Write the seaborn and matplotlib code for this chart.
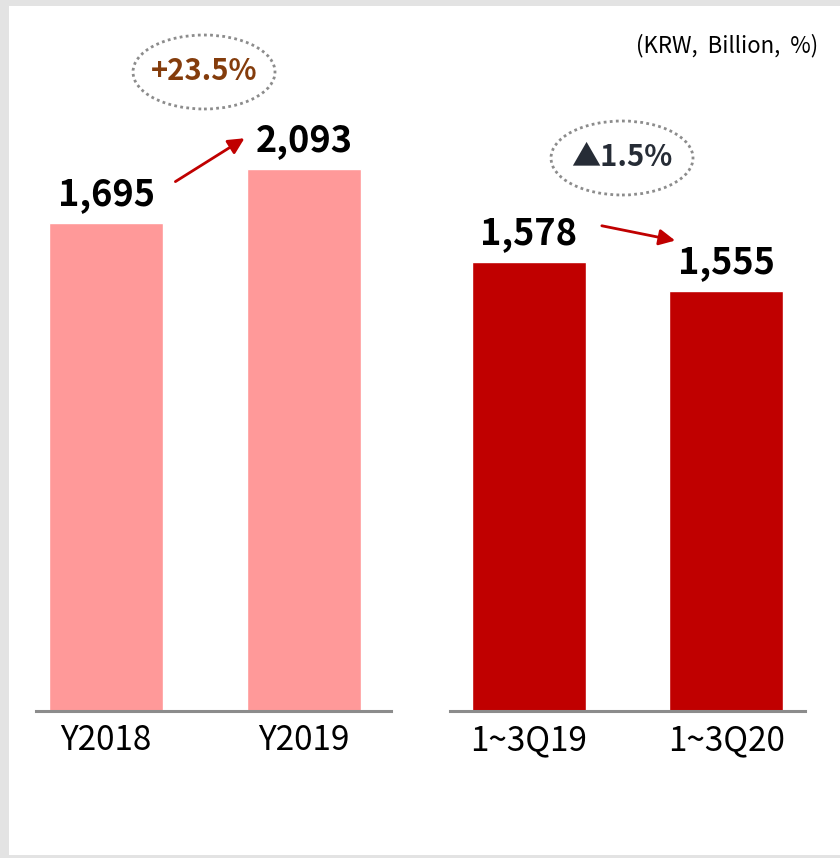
import matplotlib
matplotlib.use("Agg")
import matplotlib.pyplot as plt
from matplotlib.patches import Ellipse, Rectangle
import seaborn as sns
import pandas as pd

# annual and 1~3Q figures (KRW, Billion)
year_labels = ["Y2018", "Y2019"]
year_values = [1695, 2093]
quarter_labels = ["1~3Q19", "1~3Q20"]
quarter_values = [1578, 1555]
year_change = "+23.5%"
quarter_change = "\u25b21.5%"
unit_note = "(KRW,  Billion,  %)"

sns.set_theme(style="white")
plt.rcParams['font.family'] = ['Noto Sans CJK KR', 'DejaVu Sans']

fig = plt.figure(figsize=(8.4, 8.58), dpi=100)
fig.patch.set_facecolor("#e3e3e3")
# white page inside the grey frame
fig.patches.append(Rectangle((9 / 840, 3 / 858), 831 / 840, 849 / 858,
                             transform=fig.transFigure, facecolor="white",
                             edgecolor="none", zorder=-10))

ax1 = fig.add_axes([36 / 840, 147 / 858, 355 / 840, 691 / 858])
ax2 = fig.add_axes([450 / 840, 147 / 858, 355 / 840, 691 / 858])


def draw_panel(ax, labels, values, color, ylim, xlim):
    df = pd.DataFrame({"period": labels, "value": values})
    sns.barplot(data=df, x="period", y="value", color=color, width=0.576,
                saturation=1, ax=ax)
    # value axis does not start at zero: bars run down to the baseline
    for patch, v in zip(ax.patches, values):
        patch.set_y(ylim[0])
        patch.set_height(v - ylim[0])
    ax.set_ylim(*ylim)
    ax.set_xlim(*xlim)
    ax.set_facecolor("none")
    for s in ["top", "right", "left"]:
        ax.spines[s].set_visible(False)
    ax.spines["bottom"].set_color("#8c8c8c")
    ax.spines["bottom"].set_linewidth(2.2)
    ax.set_yticks([])
    ax.set_xlabel("")
    ax.set_ylabel("")
    ax.tick_params(axis="x", length=0, pad=9, labelsize=24, labelcolor="black")
    for i, v in enumerate(values):
        ax.annotate(f"{v:,}", (i, v), xytext=(0, 13), textcoords="offset points",
                    ha="center", va="baseline", fontsize=26, fontweight="bold",
                    color="black")


draw_panel(ax1, year_labels, year_values, "#ff9999", (-1880, 3186), (-0.354, 1.44))
draw_panel(ax2, quarter_labels, quarter_values, "#c00000", (1222, 1770), (-0.40, 1.40))

# growth arrows
ax1.annotate("", xy=(0.594, 0.831), xytext=(0.386, 0.764), xycoords="axes fraction",
             arrowprops=dict(arrowstyle="-|>,head_length=0.8,head_width=0.4",
                             color="#c00000", lw=2))
ax2.annotate("", xy=(0.642, 0.680), xytext=(0.420, 0.703), xycoords="axes fraction",
             arrowprops=dict(arrowstyle="-|>,head_length=0.8,head_width=0.4",
                             color="#c00000", lw=2))

# dotted ellipses with change rates
for cx, cy, txt, col in [(204, 72, year_change, "#843c0c"),
                         (622, 158, quarter_change, "#262c36")]:
    fig.patches.append(Ellipse((cx / 840, 1 - cy / 858), 142 / 840, 74 / 858,
                               transform=fig.transFigure, facecolor="none",
                               edgecolor="#8c8c8c", lw=2, linestyle=(0, (1, 1.2))))
    fig.text(cx / 840, 1 - (cy - 1) / 858, txt, ha="center", va="center",
             fontsize=21, fontweight="bold", color=col)

fig.text(818 / 840, 1 - 46 / 858, unit_note, ha="right", va="center",
         fontsize=16, color="black")

fig.savefig("out.png", dpi=100, facecolor=fig.get_facecolor())
